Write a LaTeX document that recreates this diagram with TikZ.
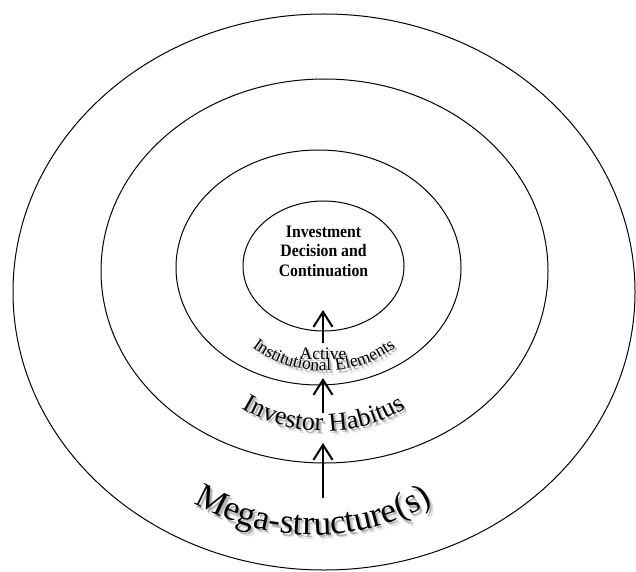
\documentclass[tikz,border=0pt]{standalone}
\usepackage{fontspec}
\setmainfont{Liberation Serif}
\usetikzlibrary{decorations.text,arrows.meta}
\newcommand\arctext[5]{%
  \path[decorate,decoration={text along path,text align=center,text color=black!12,text={#5}}]
    ([shift={(3.4pt,-4.2pt)}]#1) ++(#3:#2) arc[start angle=#3,end angle=#4,radius=#2];
  \path[decorate,decoration={text along path,text align=center,text color=black!30,text={#5}}]
    ([shift={(2pt,-2.6pt)}]#1) ++(#3:#2) arc[start angle=#3,end angle=#4,radius=#2];
  \path[decorate,decoration={text along path,text align=center,text color=black,text={#5}}]
    (#1) ++(#3:#2) arc[start angle=#3,end angle=#4,radius=#2];
}
\begin{document}
\begin{tikzpicture}[x=1pt,y=1pt,
  ring/.style={draw=black,line width=1pt},
  uparrow/.style={line width=2pt,-{Straight Barb[length=15pt,width=19pt]}},
  coretext/.style={font=\fontsize{17.5}{19.5}\selectfont\bfseries,align=center,inner sep=0pt,xscale=0.9}]
\useasboundingbox (0,0) rectangle (636,571);
% ring centres
\coordinate (e1) at (324,279);
\coordinate (e2) at (324.5,300);
\coordinate (e3) at (318.5,303.5);
\coordinate (e4) at (323.5,305);
\draw[ring] (e1) ellipse [x radius=311pt, y radius=278pt];
\draw[ring] (e2) ellipse [x radius=223.5pt, y radius=192pt];
\draw[ring] (e3) ellipse [x radius=142.5pt, y radius=117.5pt];
\draw[ring] (e4) ellipse [x radius=80.5pt, y radius=65pt];
% core text
\node[coretext,anchor=north] (core) at (323.5,345.6) {Investment\\Decision and\\Continuation};
% arrows
\coordinate (a1s) at (323,228);
\coordinate (a1e) at (323,261);
\coordinate (a2s) at (323,158);
\coordinate (a2e) at (323,193);
\coordinate (a3s) at (323,73);
\coordinate (a3e) at (323,128);
\draw[uparrow] (a1s) -- (a1e);
\draw[uparrow] (a2s) -- (a2e);
\draw[uparrow] (a3s) -- (a3e);
% Active
\node[font=\fontsize{17.5}{20}\selectfont,text=black!25,inner sep=0pt,anchor=base] (activesh) at (325,210) {Active};
\node[font=\fontsize{17.5}{20}\selectfont,inner sep=0pt,anchor=base] (active) at (323,212) {Active};
% curved labels
\coordinate (c1) at (324,320);
\coordinate (c2) at (324,299);
\coordinate (c3) at (313,276);
\arctext{c1}{120pt}{215}{325}{|\fontsize{17.5}{20}\selectfont|Institutional Elements}
\arctext{c2}{159pt}{225}{315}{|\fontsize{26}{30}\selectfont|Investor Habitus}
\arctext{c3}{240pt}{235}{305}{|\fontsize{35}{40}\selectfont|Mega-structure(s)}
\end{tikzpicture}
\end{document}
